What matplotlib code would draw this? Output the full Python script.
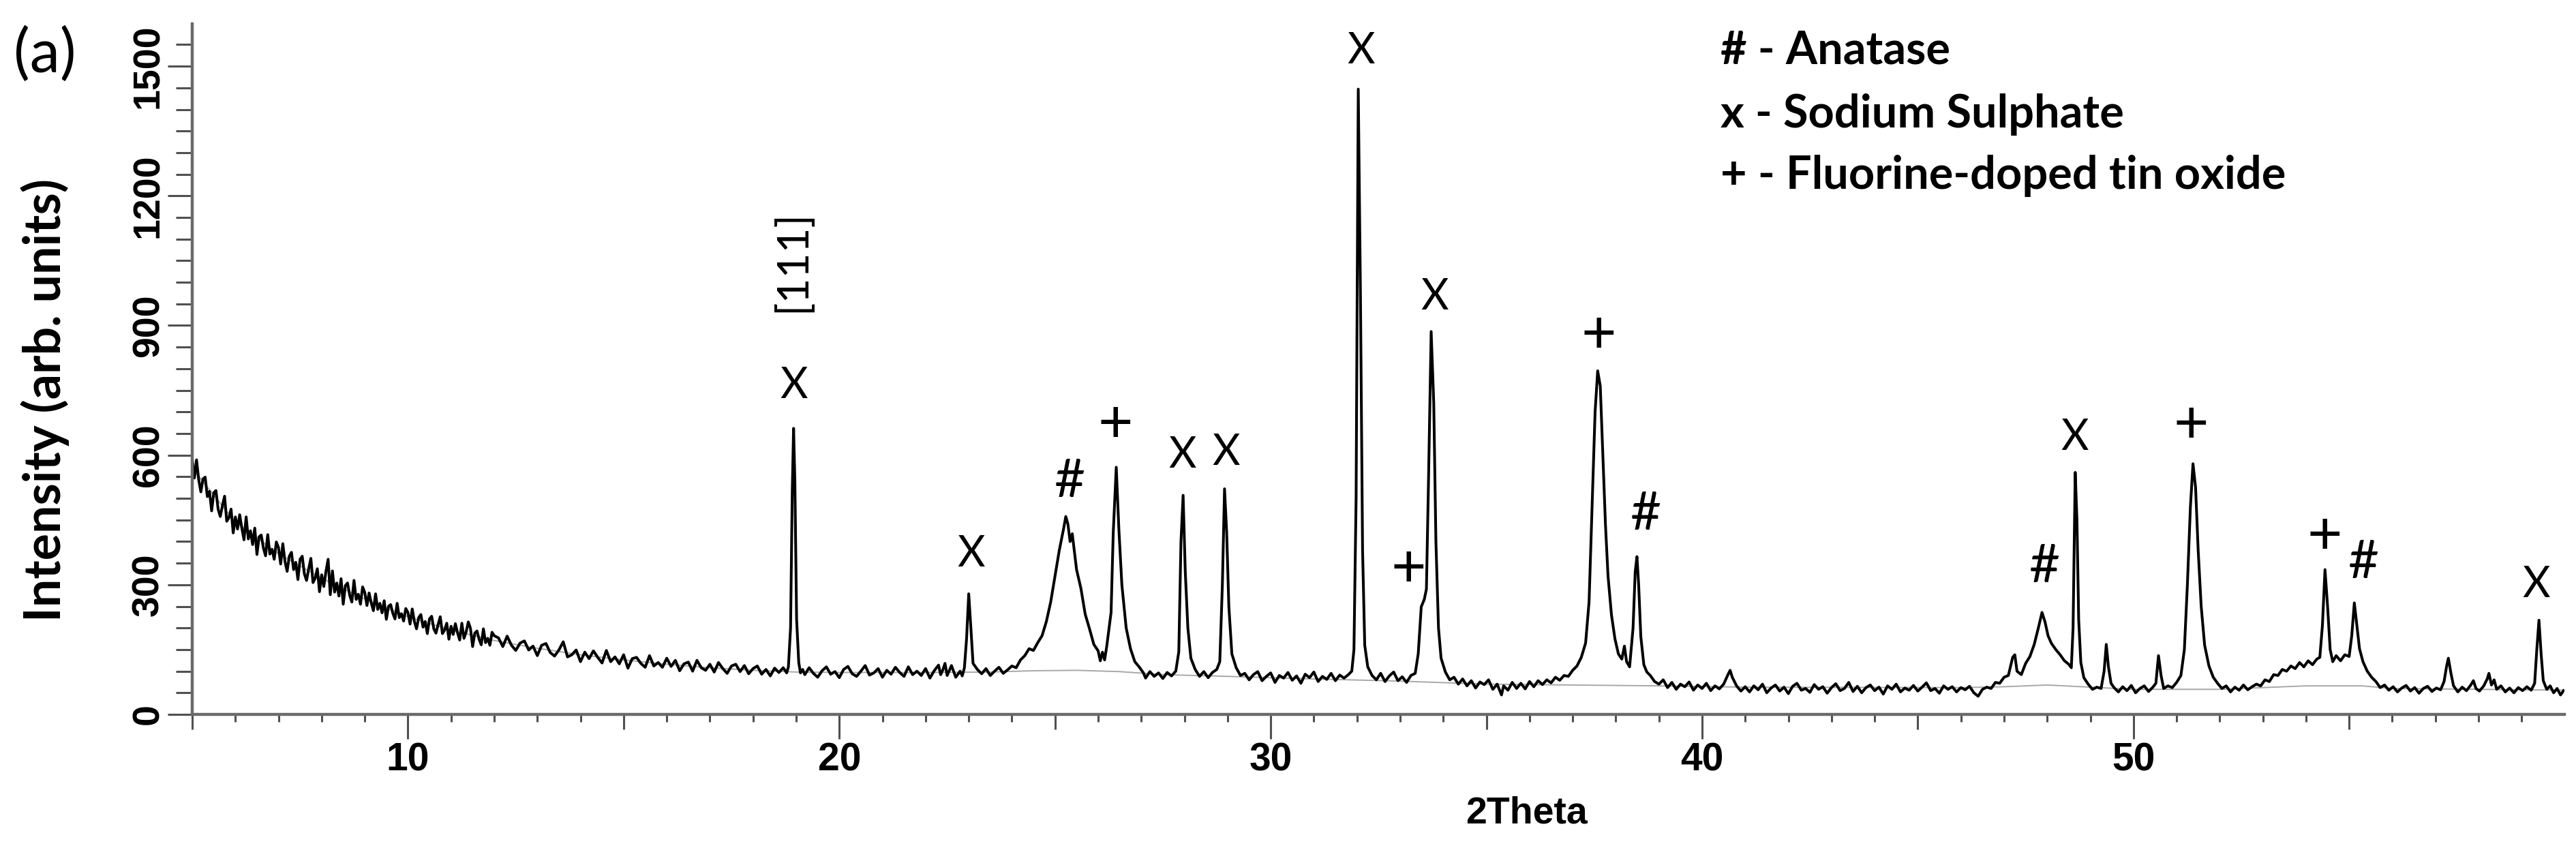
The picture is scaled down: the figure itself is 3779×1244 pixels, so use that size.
import matplotlib

matplotlib.use("Agg")

import matplotlib.pyplot as plt
import numpy as np
from matplotlib.ticker import MultipleLocator, NullFormatter, FixedLocator

# XRD scan, (2theta, counts) in a few pieces.
scan_low = [
    (5.00, 590), (5.05, 547), (5.10, 589), (5.15, 543), (5.20, 515), (5.25, 545),
    (5.30, 549), (5.35, 504), (5.40, 516), (5.45, 471), (5.50, 513), (5.55, 518),
    (5.60, 475), (5.65, 458), (5.70, 483), (5.75, 505), (5.80, 447), (5.85, 455),
    (5.90, 475), (5.95, 420), (6.00, 457), (6.05, 429), (6.10, 462), (6.15, 431),
    (6.20, 404), (6.25, 457), (6.30, 406), (6.35, 425), (6.40, 393), (6.45, 431),
    (6.50, 370), (6.55, 411), (6.60, 415), (6.65, 385), (6.70, 367), (6.75, 416),
    (6.80, 371), (6.85, 382), (6.90, 359), (6.95, 399), (7.00, 386), (7.05, 348),
    (7.10, 395), (7.15, 354), (7.20, 331), (7.25, 366), (7.30, 375), (7.35, 335),
    (7.40, 352), (7.45, 312), (7.50, 359), (7.55, 366), (7.60, 325), (7.65, 310),
    (7.70, 337), (7.75, 361), (7.80, 305), (7.85, 315), (7.90, 337), (7.95, 284),
    (8.00, 323), (8.05, 296), (8.10, 331), (8.15, 359), (8.20, 277), (8.25, 332),
    (8.30, 283), (8.35, 304), (8.40, 274), (8.45, 314), (8.50, 255), (8.55, 298),
    (8.60, 304), (8.65, 276), (8.70, 260), (8.75, 310), (8.80, 266), (8.85, 278),
    (8.90, 255), (8.95, 295), (9.00, 282), (9.05, 252), (9.10, 281), (9.15, 258),
    (9.20, 240), (9.25, 279), (9.30, 243), (9.35, 257), (9.40, 235), (9.45, 263),
    (9.50, 220), (9.55, 250), (9.60, 254), (9.65, 234), (9.70, 221), (9.75, 257),
    (9.80, 224), (9.85, 233), (9.90, 216), (9.95, 245), (10.00, 236), (10.05, 209),
    (10.10, 244), (10.15, 215), (10.20, 198), (10.25, 224), (10.30, 231), (10.35, 202),
    (10.40, 215), (10.45, 187), (10.50, 221), (10.55, 227), (10.60, 198), (10.65, 188),
    (10.70, 208), (10.75, 226), (10.80, 187), (10.85, 195), (10.90, 211), (10.95, 174),
    (11.00, 204), (11.05, 185), (11.10, 210), (11.15, 189), (11.20, 172), (11.25, 211),
    (11.30, 176), (11.35, 191), (11.40, 214), (11.45, 199), (11.50, 157), (11.55, 188),
    (11.60, 193), (11.65, 174), (11.70, 161), (11.75, 198), (11.80, 166), (11.85, 176),
    (11.90, 160), (11.95, 190), (12.00, 182), (12.1, 177), (12.2, 157), (12.3, 181),
    (12.4, 160), (12.5, 148), (12.6, 165), (12.7, 170), (12.8, 149), (12.9, 158),
    (13.0, 136), (13.1, 160), (13.2, 164), (13.3, 143), (13.4, 135), (13.5, 149),
    (13.6, 168), (13.7, 133), (13.8, 138), (13.9, 149), (14.0, 122), (14.1, 144),
    (14.2, 129), (14.3, 147), (14.4, 132), (14.5, 119), (14.6, 148), (14.7, 122),
    (14.8, 133), (14.9, 117), (15.0, 138), (15.1, 107), (15.2, 129), (15.3, 132),
    (15.4, 118), (15.5, 109), (15.6, 136), (15.7, 112), (15.8, 120), (15.9, 109),
    (16.0, 130), (16.1, 111), (16.2, 125), (16.3, 101), (16.4, 117), (16.5, 121),
    (16.6, 100), (16.7, 125), (16.8, 108), (16.9, 102), (17.0, 116), (17.1, 98),
    (17.2, 120), (17.3, 106), (17.4, 95), (17.5, 112), (17.6, 116), (17.7, 99),
    (17.8, 113), (17.9, 94), (18.0, 106), (18.1, 112), (18.2, 93), (18.3, 104),
    (18.4, 89), (18.5, 107), (18.6, 97), (18.7, 108), (18.78, 96),
]

scan_mid = [
    (18.82, 110), (18.87, 200), (18.91, 520), (18.94, 662), (18.97, 540), (19.01, 220),
    (19.06, 120), (19.1, 96), (19.15, 104), (19.2, 92), (19.3, 108), (19.4, 95),
    (19.5, 86), (19.6, 101), (19.7, 110), (19.8, 93), (19.9, 99), (20.0, 85),
    (20.1, 104), (20.2, 111), (20.3, 94), (20.4, 88), (20.5, 100), (20.6, 113),
    (20.7, 91), (20.8, 96), (20.9, 106), (21.0, 86), (21.1, 102), (21.2, 93),
    (21.3, 109), (21.4, 97), (21.5, 88), (21.6, 110), (21.7, 92), (21.8, 100),
    (21.9, 90), (22.0, 106), (22.1, 84), (22.2, 101), (22.3, 114), (22.35, 92),
    (22.4, 103), (22.45, 118), (22.5, 90), (22.6, 113), (22.7, 86), (22.8, 100),
    (22.85, 89), (22.9, 108), (22.95, 175), (23.0, 279), (23.05, 200), (23.1, 118),
    (23.2, 104), (23.3, 94), (23.4, 106), (23.5, 90), (23.6, 100), (23.7, 109),
    (23.8, 95), (23.9, 103), (24.0, 112), (24.1, 108), (24.2, 126), (24.3, 136),
    (24.4, 152), (24.5, 148), (24.6, 166), (24.7, 182), (24.8, 215), (24.9, 260),
    (25.0, 320), (25.1, 380), (25.2, 430), (25.25, 458), (25.3, 440), (25.35, 400),
    (25.4, 418), (25.5, 335), (25.6, 292), (25.7, 232), (25.8, 198), (25.9, 162),
    (26.0, 147), (26.05, 124), (26.1, 144), (26.15, 126), (26.2, 158), (26.3, 236),
    (26.35, 420), (26.42, 572), (26.48, 430), (26.55, 300), (26.65, 200), (26.75, 152),
    (26.85, 122), (26.95, 110), (27.05, 96), (27.1, 84), (27.2, 99), (27.3, 88),
    (27.4, 96), (27.5, 83), (27.6, 97), (27.7, 89), (27.8, 100), (27.87, 145),
    (27.92, 400), (27.97, 507), (28.02, 330), (28.08, 200), (28.15, 130), (28.25, 104),
    (28.35, 88), (28.45, 99), (28.55, 85), (28.65, 97), (28.75, 104), (28.82, 122),
    (28.88, 300), (28.93, 522), (28.98, 420), (29.03, 250), (29.1, 140), (29.2, 108),
    (29.3, 90), (29.4, 95), (29.5, 80), (29.6, 92), (29.7, 99), (29.8, 78),
    (29.9, 88), (30.0, 96), (30.1, 74), (30.2, 90), (30.3, 84), (30.4, 97),
    (30.5, 79), (30.6, 89), (30.7, 72), (30.8, 93), (30.9, 85), (31.0, 98),
    (31.1, 76), (31.2, 88), (31.3, 81), (31.4, 95), (31.5, 78), (31.6, 91),
    (31.7, 84), (31.8, 92),
]

scan_high = [
    (31.88, 100), (31.93, 150), (31.98, 500), (32.03, 1447), (32.08, 980), (32.13, 380),
    (32.18, 160), (32.25, 110), (32.35, 90), (32.45, 80), (32.55, 95), (32.65, 76),
    (32.75, 89), (32.85, 98), (32.95, 78), (33.05, 87), (33.15, 74), (33.25, 90),
    (33.35, 95), (33.42, 140), (33.49, 249), (33.56, 266), (33.61, 290), (33.66, 550),
    (33.72, 886), (33.78, 720), (33.83, 400), (33.89, 200), (33.95, 130), (34.05, 98),
    (34.15, 80), (34.25, 86), (34.35, 70), (34.45, 82), (34.55, 66), (34.65, 78),
    (34.75, 61), (34.85, 75), (34.95, 69), (35.05, 80), (35.15, 58), (35.25, 70),
    (35.35, 45), (35.4, 66), (35.5, 56), (35.6, 74), (35.7, 60), (35.8, 72),
    (35.9, 59), (36.0, 76), (36.1, 64), (36.2, 78), (36.3, 69), (36.4, 80),
    (36.5, 73), (36.6, 86), (36.7, 79), (36.8, 90), (36.9, 88), (37.0, 102),
    (37.1, 112), (37.2, 132), (37.3, 165), (37.38, 260), (37.45, 480), (37.52, 700),
    (37.58, 795), (37.64, 760), (37.7, 600), (37.76, 440), (37.82, 320), (37.9, 230),
    (37.98, 175), (38.06, 140), (38.14, 128), (38.2, 158), (38.25, 122), (38.32, 110),
    (38.4, 200), (38.45, 330), (38.49, 365), (38.53, 300), (38.58, 180), (38.65, 115),
    (38.72, 98), (38.8, 90), (38.9, 76), (39.0, 70), (39.1, 80), (39.2, 62),
    (39.3, 74), (39.4, 58), (39.5, 70), (39.6, 64), (39.7, 75), (39.8, 56),
    (39.9, 68), (40.0, 60), (40.1, 72), (40.2, 55), (40.3, 66), (40.4, 59),
    (40.5, 70), (40.6, 92), (40.65, 102), (40.7, 86), (40.8, 66), (40.9, 54),
    (41.0, 64),
]

scan_tail = [
    (41.1, 52), (41.2, 66), (41.3, 57), (41.4, 70), (41.5, 50), (41.6, 61),
    (41.7, 68), (41.8, 54), (41.9, 63), (42.0, 48), (42.1, 65), (42.2, 72),
    (42.3, 56), (42.4, 60), (42.5, 51), (42.6, 69), (42.7, 58), (42.8, 64),
    (42.9, 49), (43.0, 62), (43.1, 71), (43.2, 55), (43.3, 60), (43.4, 74),
    (43.5, 53), (43.6, 65), (43.7, 50), (43.8, 62), (43.9, 68), (44.0, 55),
    (44.1, 63), (44.2, 47), (44.3, 66), (44.4, 58), (44.5, 70), (44.6, 52),
    (44.7, 61), (44.8, 56), (44.9, 67), (45.0, 54), (45.1, 63), (45.2, 73),
    (45.3, 55), (45.4, 60), (45.5, 49), (45.6, 66), (45.7, 58), (45.8, 64),
    (45.9, 52), (46.0, 62), (46.1, 57), (46.2, 65), (46.3, 50), (46.4, 42),
    (46.5, 58), (46.6, 63), (46.7, 60), (46.8, 74), (46.9, 72), (47.0, 86),
    (47.1, 90), (47.2, 132), (47.25, 138), (47.3, 100), (47.4, 92), (47.5, 118),
    (47.6, 134), (47.7, 162), (47.8, 202), (47.88, 236), (47.95, 214), (48.02, 182),
    (48.1, 164), (48.2, 150), (48.3, 138), (48.4, 124), (48.5, 116), (48.56, 108),
    (48.6, 200), (48.65, 560), (48.69, 450), (48.73, 220), (48.78, 120), (48.85, 85),
    (48.95, 70), (49.05, 58), (49.15, 63), (49.25, 60), (49.32, 100), (49.37, 162),
    (49.42, 110), (49.48, 72), (49.55, 62), (49.65, 52), (49.75, 64), (49.85, 55),
    (49.95, 67), (50.05, 50), (50.15, 60), (50.25, 66), (50.35, 53), (50.45, 63),
    (50.52, 72), (50.58, 136), (50.64, 90), (50.7, 60), (50.8, 66), (50.9, 62),
    (51.0, 74), (51.1, 90), (51.18, 150), (51.25, 300), (51.32, 480), (51.38, 580),
    (51.44, 525), (51.5, 380), (51.57, 250), (51.65, 160), (51.75, 112), (51.85, 86),
    (51.95, 72), (52.05, 60), (52.15, 66), (52.25, 52), (52.35, 63), (52.45, 56),
    (52.55, 68), (52.65, 57), (52.75, 64), (52.85, 70), (52.95, 66), (53.05, 80),
    (53.15, 76), (53.25, 92), (53.35, 90), (53.45, 104), (53.55, 100), (53.65, 112),
    (53.75, 106), (53.85, 120), (53.95, 110), (54.05, 124), (54.15, 115), (54.25, 128),
    (54.32, 132), (54.38, 205), (54.44, 335), (54.5, 250), (54.56, 150), (54.62, 122),
    (54.7, 136), (54.8, 124), (54.9, 138), (55.0, 134), (55.06, 182), (55.12, 258),
    (55.18, 205), (55.24, 152), (55.32, 122), (55.42, 100), (55.52, 86), (55.62, 76),
    (55.72, 62), (55.82, 68), (55.92, 56), (56.02, 64), (56.12, 52), (56.22, 61),
    (56.32, 67), (56.42, 54), (56.52, 62), (56.62, 49), (56.72, 60), (56.82, 65),
    (56.92, 53), (57.02, 61), (57.12, 57), (57.2, 76), (57.26, 112), (57.3, 130),
    (57.36, 95), (57.42, 66), (57.52, 52), (57.62, 63), (57.72, 55), (57.82, 68),
    (57.88, 78), (57.94, 60), (58.02, 54), (58.12, 66), (58.2, 82), (58.24, 95),
    (58.3, 68), (58.36, 80), (58.42, 58), (58.52, 66), (58.62, 52), (58.72, 61),
    (58.82, 50), (58.92, 62), (59.02, 55), (59.12, 64), (59.22, 56), (59.3, 72),
    (59.35, 150), (59.4, 218), (59.45, 140), (59.5, 78), (59.58, 58), (59.66, 66),
    (59.74, 50), (59.82, 60), (59.9, 45), (59.97, 55),
]

# fitted background (thin grey line)
background = [
    (5, 570), (6, 445), (7, 372), (8, 315), (9, 267), (10, 226), (11, 195),
    (12, 171), (13, 153), (14, 138), (15, 126), (16, 116), (17, 108), (18, 102),
    (19, 98), (20, 97), (22, 97), (23.5, 98), (24.5, 101), (25.5, 102), (26.5, 99),
    (27.5, 92), (29, 88), (31, 82), (33, 77), (35, 70), (37, 68), (39, 66),
    (41, 63), (46, 62), (47, 64), (48, 68), (49, 63), (50, 58), (52, 58),
    (53, 62), (54, 66), (55.3, 66), (56, 60), (60, 56),
]

# peak markers: text, 2theta, intensity
peak_labels = [
    ("X", 18.95, 761), ("X", 23.05, 370), ("#", 25.34, 537), ("+", 26.4, 669),
    ("X", 27.95, 600), ("X", 28.96, 606), ("X", 32.1, 1535), ("+", 33.2, 335),
    ("X", 33.8, 966), ("+", 37.6, 876), ("#", 38.7, 462), ("#", 47.94, 340),
    ("X", 48.64, 640), ("+", 51.34, 668), ("+", 54.44, 410), ("#", 55.34, 350),
    ("X", 59.34, 300),
]
miller_label = ("[111]", 18.91, 1049)

legend_lines = ["# - Anatase", "x - Sodium Sulphate", "+ - Fluorine-doped tin oxide"]

y_major = [0, 300, 600, 900, 1200, 1500]
x_mid_ticks = [5, 15, 25, 35, 45, 55]

W, H = 3779, 1244
SANS = ["Lato", "DejaVu Sans"]
NARROW = ["Liberation Sans Narrow", "Liberation Sans", "DejaVu Sans"]
TICK_FONT = ["Liberation Sans", "DejaVu Sans"]
TICK_COLOR = "#505050"
MARK_SIZE = {"X": 45, "#": 56, "+": 64}


def main():
    scan = np.array(scan_low + scan_mid + scan_high + scan_tail, dtype=float)
    bg = np.array(background, dtype=float)

    fig = plt.figure(figsize=(W / 100, H / 100), dpi=100)
    ax = fig.add_axes([282 / W, (H - 1048) / H, (3762 - 282) / W, (1048 - 35) / H])

    ax.plot(bg[:, 0], bg[:, 1], color="#a8a8a8", lw=1.4, zorder=1)
    ax.plot(scan[:, 0], scan[:, 1], color="black", lw=2.9, zorder=2)

    ax.set_xlim(5, 59.99)
    ax.set_ylim(0, 1598)

    for side in ("top", "right"):
        ax.spines[side].set_visible(False)
    for side in ("left", "bottom"):
        ax.spines[side].set_color("#6a6a6a")
        ax.spines[side].set_linewidth(3.2)

    ax.yaxis.set_major_locator(FixedLocator(y_major))
    ax.yaxis.set_minor_locator(MultipleLocator(50))
    ax.tick_params(axis="y", which="major", direction="out", length=26, width=2.2,
                   color=TICK_COLOR, pad=1, labelsize=40)
    ax.tick_params(axis="y", which="minor", direction="out", length=17, width=2.2,
                   color=TICK_COLOR)
    for lab in ax.get_yticklabels():
        lab.set_rotation(90)
        lab.set_va("center")
        lab.set_family(NARROW)
        lab.set_fontweight("bold")

    ax.xaxis.set_major_locator(MultipleLocator(10))
    ax.xaxis.set_minor_locator(MultipleLocator(1))
    ax.tick_params(axis="x", which="major", direction="out", length=26, width=2.2,
                   color=TICK_COLOR, labelsize=41, pad=3)
    ax.tick_params(axis="x", which="minor", direction="out", length=8, width=2.2,
                   color=TICK_COLOR)
    for lab in ax.get_xticklabels():
        lab.set_family(TICK_FONT)
        lab.set_fontweight("bold")

    # medium ticks at the fives
    sec = ax.secondary_xaxis("bottom")
    sec.xaxis.set_major_locator(FixedLocator(x_mid_ticks))
    sec.xaxis.set_major_formatter(NullFormatter())
    sec.tick_params(axis="x", direction="out", length=16, width=2.2, color=TICK_COLOR)
    sec.spines["bottom"].set_visible(False)

    for text, tt, inten in peak_labels:
        ax.text(tt, inten, text, ha="center", va="center", fontsize=MARK_SIZE[text],
                family=SANS, zorder=3)
    ax.text(miller_label[1], miller_label[2], miller_label[0], rotation=90,
            ha="center", va="center", fontsize=46, family=SANS)

    line_y = [75, 168, 258]
    for text, yy in zip(legend_lines, line_y):
        fig.text(2524 / W, 1 - yy / H, text, ha="left", va="center", fontsize=48,
                 fontweight="bold", family=SANS)

    fig.text(66 / W, 1 - 587 / H, "Intensity (arb. units)", rotation=90,
             ha="center", va="center", fontsize=53, fontweight="bold", family=SANS)
    fig.text(2239 / W, 1 - 1194 / H, "2Theta", ha="center", va="center",
             fontsize=40, fontweight="bold", family=TICK_FONT)
    fig.text(66 / W, 1 - 81 / H, "(a)", ha="center", va="center", fontsize=64,
             family=SANS)

    fig.savefig("out.png", dpi=100, facecolor="white")


if __name__ == "__main__":
    main()
